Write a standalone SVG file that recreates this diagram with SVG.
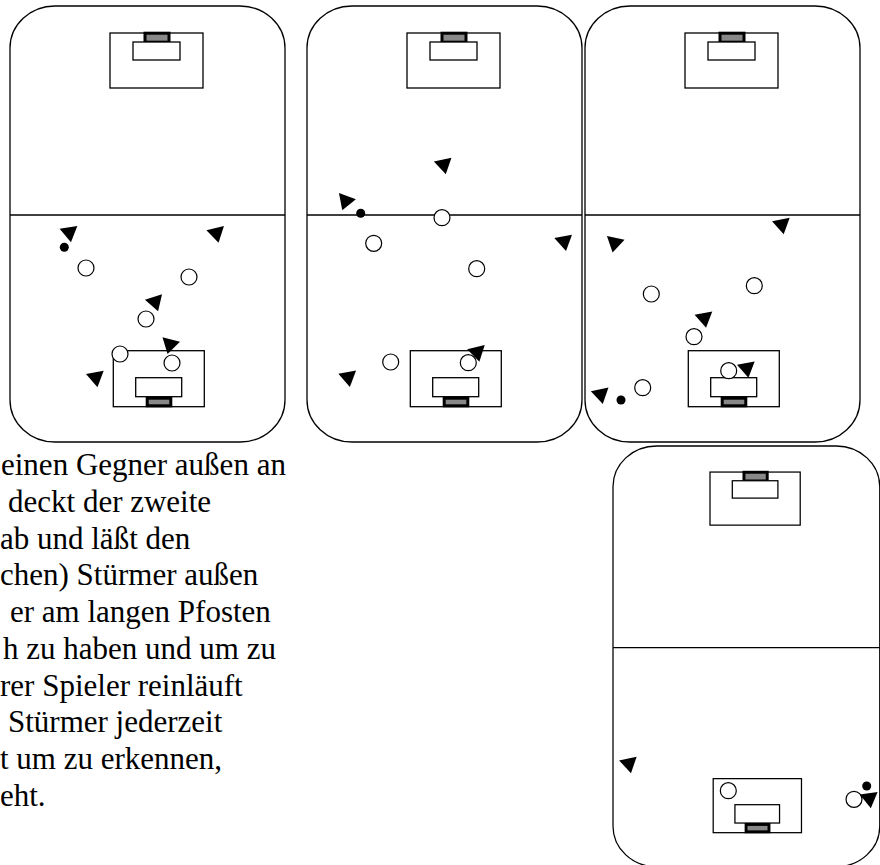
<svg xmlns="http://www.w3.org/2000/svg" xmlns:xlink="http://www.w3.org/1999/xlink" width="880" height="865" viewBox="0 0 880 865">
  <style>
    .line { fill: none; stroke: #000; stroke-width: 1.3; }
    .box { fill: #fff; stroke: #000; stroke-width: 1.3; }
    .goal { fill: #888; stroke: #000; stroke-width: 3; }
    .att { fill: #000; }
    .def { fill: #fff; stroke: #000; stroke-width: 1.2; }
    .ball { fill: #000; }
    .txt { font-family: "Liberation Serif", "Times New Roman", serif; font-size: 31px; fill: #000; }
  </style>
  <defs>
    <!-- one pitch, local origin at its top-left corner -->
    <g id="pitch">
      <rect class="line" x="0" y="0" width="275" height="436" rx="45" ry="42"/>
      <line class="line" x1="0" y1="209" x2="275" y2="209"/>
      <!-- top penalty area, goal, goal area -->
      <rect class="box" x="100" y="27" width="93" height="55"/>
      <rect class="goal" x="135" y="27.2" width="24" height="9"/>
      <rect class="box" x="123" y="36" width="47" height="18"/>
      <!-- bottom penalty area, goal area, goal -->
      <rect class="box" x="103.3" y="344.7" width="91" height="56"/>
      <rect class="box" x="125.7" y="371.7" width="46" height="19"/>
      <rect class="goal" x="137.2" y="392.2" width="23.6" height="7.6"/>
    </g>
    <!-- attacker marker -->
    <path id="tri" class="att" d="M-9,-5 L9,-5 L0,10 Z"/>
  </defs>

  <g id="pitch-1">
    <use xlink:href="#pitch" href="#pitch" transform="translate(10,6)"/>
    <use href="#tri" transform="translate(69.3,232.3) rotate(-9.5)"/>
    <circle class="ball" cx="64.3" cy="247.3" r="4.5"/>
    <circle class="def" cx="86" cy="268" r="8"/>
    <use href="#tri" transform="translate(216.3,233) rotate(-13)"/>
    <circle class="def" cx="189" cy="277" r="8"/>
    <use href="#tri" transform="translate(155,301.7) rotate(-18)"/>
    <circle class="def" cx="146" cy="319" r="8"/>
    <circle class="def" cx="120" cy="354" r="8"/>
    <circle class="def" cx="172" cy="363" r="8"/>
    <use href="#tri" transform="translate(170,344.3) rotate(14)"/>
    <use href="#tri" transform="translate(95.7,377.3) rotate(-10)"/>
  </g>

  <g id="pitch-2">
    <use href="#pitch" transform="translate(307,6)"/>
    <use href="#tri" transform="translate(443.7,164.5) rotate(-12)"/>
    <use href="#tri" transform="translate(345.7,200.9) rotate(20)"/>
    <circle class="ball" cx="360.7" cy="213.3" r="4.5"/>
    <circle class="def" cx="442" cy="217.7" r="8"/>
    <circle class="def" cx="373.7" cy="243.3" r="8"/>
    <use href="#tri" transform="translate(564.1,241.3) rotate(-11)"/>
    <circle class="def" cx="476.7" cy="268.7" r="8"/>
    <circle class="def" cx="390.7" cy="362" r="8"/>
    <circle class="def" cx="468.3" cy="362.7" r="8"/>
    <use href="#tri" transform="translate(477.1,352) rotate(-13)"/>
    <use href="#tri" transform="translate(348.1,377.1) rotate(-10)"/>
  </g>

  <g id="pitch-3">
    <use href="#pitch" transform="translate(585,6)"/>
    <use href="#tri" transform="translate(781.8,224.4) rotate(-11)"/>
    <use href="#tri" transform="translate(614.7,242.8) rotate(12)"/>
    <circle class="def" cx="651.3" cy="294" r="8"/>
    <circle class="def" cx="754.3" cy="285.7" r="8"/>
    <use href="#tri" transform="translate(704.3,318) rotate(-10)"/>
    <circle class="def" cx="694" cy="336.7" r="8"/>
    <circle class="def" cx="728.7" cy="370.7" r="8"/>
    <use href="#tri" transform="translate(746.7,368) rotate(-10)"/>
    <circle class="def" cx="642.7" cy="387.7" r="8"/>
    <use href="#tri" transform="translate(600.7,394.2) rotate(-12)"/>
    <circle class="ball" cx="621" cy="400" r="4.5"/>
  </g>

  <g id="pitch-4">
    <use href="#pitch" transform="translate(613,446) scale(0.97,0.965)"/>
    <use href="#tri" transform="translate(628.9,763.4) rotate(-12)"/>
    <circle class="def" cx="728.3" cy="790.7" r="8"/>
    <circle class="def" cx="854" cy="799.3" r="8"/>
    <circle class="ball" cx="866.7" cy="786" r="4.5"/>
    <use href="#tri" transform="translate(869.4,798.3) rotate(-8)"/>
  </g>

  <g id="caption" class="txt">
    <text x="1" y="475">einen Gegner außen an</text>
    <text x="8" y="511.75">deckt der zweite</text>
    <text x="0" y="548.5">ab und läßt den</text>
    <text x="0" y="585.25">chen) Stürmer außen</text>
    <text x="10" y="622">er am langen Pfosten</text>
    <text x="3" y="658.75">h zu haben und um zu</text>
    <text x="0" y="695.5">rer Spieler reinläuft</text>
    <text x="8" y="732.25">Stürmer jederzeit</text>
    <text x="0" y="769">t um zu erkennen,</text>
    <text x="0" y="805.75">eht.</text>
  </g>
</svg>
